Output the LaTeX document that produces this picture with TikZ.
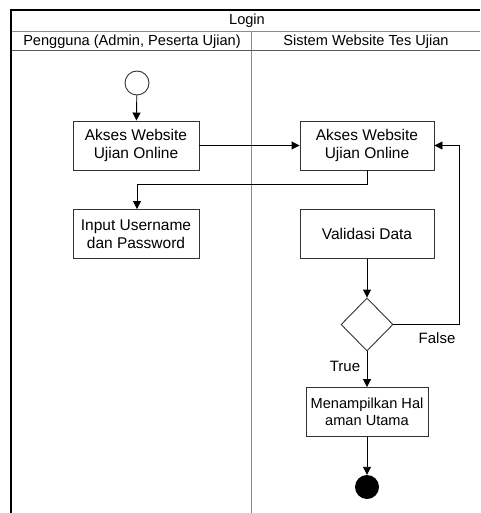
\documentclass[tikz,border=0pt]{standalone}
\usepackage{fontspec}
\setmainfont{Liberation Sans}
\usetikzlibrary{arrows.meta,shapes.geometric}
\begin{document}
\begin{tikzpicture}[x=1pt,y=-1pt,
  act/.style={draw=black!80,line width=0.9pt,fill=white,minimum width=126pt,minimum height=49pt,
    align=center,inner sep=2pt,font=\fontsize{15.5}{17.5}\selectfont},
  flow/.style={draw=black,line width=0.9pt,-{Triangle[length=8pt,width=8pt]}},
  lane/.style={draw=black!45,line width=1pt},
  hdr/.style={font=\fontsize{14.6}{16}\selectfont,inner sep=0pt},
  lbl/.style={font=\fontsize{15}{17}\selectfont,inner sep=0pt}]
\useasboundingbox (0,0) rectangle (480,513);

% swimlane frame
\draw[lane] (251,32) -- (251,513);
\draw[lane] (11,32) -- (480,32);
\draw[draw=black!65,line width=1pt] (11,51) -- (480,51);
\draw[line width=2pt] (11,513) -- (11,10) -- (480,10);
\node[hdr] (title) at (247,21) {Login};
\node[hdr] (laneA) at (132,42) {Pengguna (Admin, Peserta Ujian)};
\node[hdr] (laneB) at (366,42) {Sistem Website Tes Ujian};

% activities
\node[circle,draw=black!80,line width=0.9pt,minimum size=24pt,inner sep=0pt] (start) at (137,83) {};
\node[act] (akses1) at (136,145.5) {Akses Website\\Ujian Online};
\node[act,minimum width=134pt] (akses2) at (367,145.5) {Akses Website\\Ujian Online};
\node[act] (input) at (136,234) {Input Username\\dan Password};
\node[act,minimum width=134pt] (valid) at (367,234) {Validasi Data};
\node[diamond,draw=black!80,line width=0.9pt,fill=white,minimum width=52pt,minimum height=53pt,inner sep=0pt,aspect=1] (dec) at (367,324.5) {};
\node[act,minimum width=122pt,font=\fontsize{14.6}{17.5}\selectfont] (home) at (367,412) {Menampilkan Hal\\aman Utama};
\node[circle,fill=black,minimum size=24pt,inner sep=0pt] (end) at (367,487) {};
\coordinate (back) at (459,324.5);

% flows
\draw[flow] (start) -- (akses1);
\draw[flow] (akses1) -- (akses2);
\draw[flow] (akses2.south) |- (137,184) -- (input.north -| 137,0);
\draw[flow] (valid) -- (dec);
\draw[flow] (dec.east) -- (back) |- (akses2.east);
\draw[flow] (dec) -- (home);
\draw[flow] (home) -- (end);
\node[lbl] (false) at (437,338) {False};
\node[lbl] (true) at (345,366) {True};
\end{tikzpicture}
\end{document}
